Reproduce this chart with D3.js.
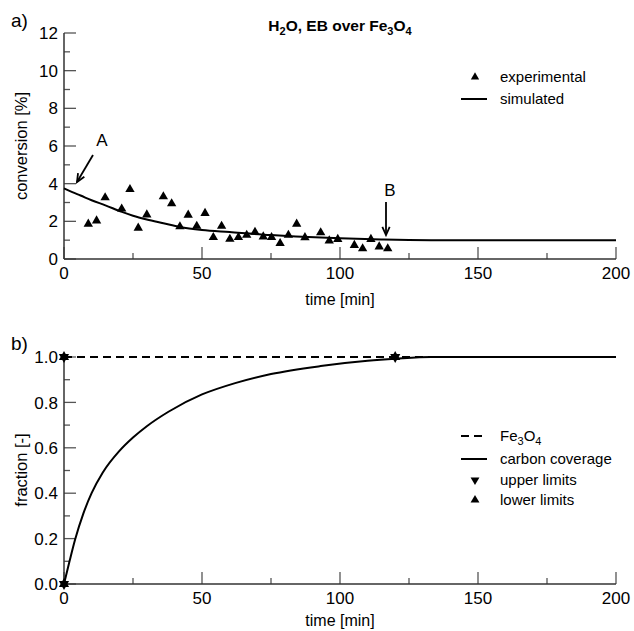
<!DOCTYPE html>
<html><head><meta charset="utf-8">
<script src="https://cdn.jsdelivr.net/npm/d3@7"></script>
<style>
body{margin:0;background:#fff;}
svg{display:block;font-family:"Liberation Sans",Arial,sans-serif;}
</style></head>
<body><svg id="c" width="634" height="631"></svg>
<script>
// ---- data ----
const expTime = [8.8,11.8,14.9,20.9,23.9,26.9,30.0,36.0,39.0,42.0,45.0,48.1,51.1,54.1,57.1,60.1,63.2,66.2,69.2,72.2,75.2,78.3,81.3,84.3,87.3,93.0,96.1,99.2,105.2,108.2,111.2,114.2,117.3];
const expConv = [1.86,2.03,3.26,2.66,3.70,1.65,2.35,3.31,2.94,1.72,2.34,1.75,2.43,1.15,1.75,1.06,1.15,1.27,1.43,1.18,1.15,0.83,1.27,1.86,1.14,1.40,0.97,1.05,0.73,0.55,1.05,0.65,0.55];
const simTime = [0,3,6,10,15,21,25,30,36,42,50,60,75,84,100,115,125,133,150,200];
const simConv = [3.75,3.55,3.37,3.12,2.85,2.5,2.3,2.1,1.9,1.7,1.54,1.43,1.27,1.2,1.1,1.04,1.01,1.0,1.0,1.0];
const covTime = [0,2,4,7,10,14,20,25,30,38,50,62,75,93,110,120,133,150,200];
const covFrac = [0,0.1,0.195,0.31,0.40,0.49,0.585,0.645,0.695,0.76,0.835,0.885,0.925,0.96,0.983,0.992,1.0,1.0,1.0];
const feTime = [0,200];
const feFrac = [1,1];
const limitTime = [0,0,120];
const limitFrac = [1,0,1];
const xTicks = [0,50,100,150,200];
const yTicksA = [0,2,4,6,8,10,12];
const yTicksB = [0,0.2,0.4,0.6,0.8,1.0];

const svg = d3.select("#c");
const axisCol = "#333";
const x = d3.scaleLinear().domain([0,200]).range([64,616]);
const yA = d3.scaleLinear().domain([0,12]).range([259,33]);
const yB = d3.scaleLinear().domain([0,1]).range([584,357]);

function axes(y, minorY, majorY, fmt, xLabelY, xTitleY, yTitle, yTitleCY) {
  const g = svg.append("g");
  const [y0, y1] = y.range();
  const minorX = d3.range(0,201,25);
  g.selectAll(".tx").data(minorX).join("line")
    .attr("x1", d=>x(d)).attr("x2", d=>x(d))
    .attr("y1", y0).attr("y2", d=> y0 - (d%50===0 ? 12 : 6))
    .attr("stroke", "#555").attr("stroke-width", 1.3);
  g.selectAll(".ty").data(minorY).join("line")
    .attr("x1", 64).attr("x2", d=> 64 + (majorY.some(m=>Math.abs(m-d)<1e-9) ? 12 : 6))
    .attr("y1", d=>y(d)).attr("y2", d=>y(d))
    .attr("stroke", "#555").attr("stroke-width", 1.3);
  g.append("line").attr("x1",64).attr("x2",616).attr("y1",y0).attr("y2",y0)
    .attr("stroke",axisCol).attr("stroke-width",1.5);
  g.append("line").attr("x1",64).attr("x2",64).attr("y1",y0).attr("y2",y1)
    .attr("stroke",axisCol).attr("stroke-width",1.5);
  g.selectAll(".lx").data(xTicks).join("text")
    .attr("x", d=>x(d)).attr("y", xLabelY).attr("text-anchor","middle")
    .attr("font-size",17).text(d=>d);
  g.selectAll(".ly").data(majorY).join("text")
    .attr("x", 58).attr("y", d=>y(d)).attr("dy","0.36em").attr("text-anchor","end")
    .attr("font-size",17).text(fmt);
  g.append("text").attr("x",340).attr("y",xTitleY).attr("text-anchor","middle")
    .attr("font-size",16).text("time [min]");
  g.append("text").attr("transform",`translate(27,${yTitleCY}) rotate(-90)`)
    .attr("text-anchor","middle").attr("font-size",16.5).text(yTitle);
}

axes(yA, d3.range(0,12.01,1), yTicksA, d=>d, 279, 305, "conversion [%]", 146);
axes(yB, d3.range(0,1.001,0.1).map(v=>+v.toFixed(1)), yTicksB, d=>d.toFixed(1), 604, 626, "fraction [-]", 470);

// panel labels
svg.append("text").attr("x",11).attr("y",27).attr("font-size",19).text("a)");
svg.append("text").attr("x",11).attr("y",350).attr("font-size",19).text("b)");

// title
const t = svg.append("text").attr("x",340).attr("y",31).attr("text-anchor","middle")
  .attr("font-size",15.5).attr("font-weight","bold");
t.append("tspan").text("H");
t.append("tspan").attr("dy",4).attr("font-size",11).text("2");
t.append("tspan").attr("dy",-4).text("O, EB over Fe");
t.append("tspan").attr("dy",4).attr("font-size",11).text("3");
t.append("tspan").attr("dy",-4).text("O");
t.append("tspan").attr("dy",4).attr("font-size",11).text("4");

// ---- panel a ----
const lineA = d3.line().x((d,i)=>x(simTime[i])).y((d,i)=>yA(simConv[i])).curve(d3.curveMonotoneX);
svg.append("path").attr("d", lineA(simTime)).attr("fill","none").attr("stroke","#000").attr("stroke-width",2);

const triUp = d3.symbol().type(d3.symbolTriangle).size(38);
svg.selectAll(".exp").data(expTime).join("path")
  .attr("d", triUp()).attr("fill","#000")
  .attr("transform",(d,i)=>`translate(${x(d)},${yA(expConv[i])})`);

// annotations
function arrow(x1,y1,x2,y2){
  svg.append("line").attr("x1",x1).attr("y1",y1).attr("x2",x2).attr("y2",y2)
    .attr("stroke","#000").attr("stroke-width",1.8);
  const ang = Math.atan2(y2-y1,x2-x1), L=9, a=0.42;
  const p = d3.path();
  p.moveTo(x2 - L*Math.cos(ang-a), y2 - L*Math.sin(ang-a));
  p.lineTo(x2,y2);
  p.lineTo(x2 - L*Math.cos(ang+a), y2 - L*Math.sin(ang+a));
  svg.append("path").attr("d",p.toString()).attr("fill","none").attr("stroke","#000").attr("stroke-width",1.8);
}
svg.append("text").attr("x",102).attr("y",146).attr("text-anchor","middle").attr("font-size",17).text("A");
arrow(93,155,77,182);
svg.append("text").attr("x",390).attr("y",196).attr("text-anchor","middle").attr("font-size",17).text("B");
arrow(386,202,386,235);

// legend a
svg.append("path").attr("d",d3.symbol().type(d3.symbolTriangle).size(30)()).attr("fill","#000")
  .attr("transform","translate(475,77)");
svg.append("text").attr("x",500).attr("y",82).attr("font-size",15).text("experimental");
svg.append("line").attr("x1",461).attr("x2",487).attr("y1",99).attr("y2",99).attr("stroke","#000").attr("stroke-width",2);
svg.append("text").attr("x",500).attr("y",104).attr("font-size",15).text("simulated");

// ---- panel b ----
const lineFe = d3.line().x((d,i)=>x(feTime[i])).y((d,i)=>yB(feFrac[i]));
svg.append("path").attr("d", lineFe(feTime)).attr("fill","none").attr("stroke","#000")
  .attr("stroke-width",2).attr("stroke-dasharray","8,5");
const lineB = d3.line().x((d,i)=>x(covTime[i])).y((d,i)=>yB(covFrac[i])).curve(d3.curveMonotoneX);
svg.append("path").attr("d", lineB(covTime)).attr("fill","none").attr("stroke","#000").attr("stroke-width",2);

const triS = d3.symbol().type(d3.symbolTriangle).size(45);
limitTime.forEach((tt,i)=>{
  const px = x(tt), py = yB(limitFrac[i]);
  svg.append("path").attr("d",triS()).attr("fill","#000").attr("transform",`translate(${px},${py})`);
  svg.append("path").attr("d",triS()).attr("fill","#000").attr("transform",`translate(${px},${py}) rotate(180)`);
});

// legend b
svg.append("line").attr("x1",461).attr("x2",487).attr("y1",436).attr("y2",436).attr("stroke","#000")
  .attr("stroke-width",2).attr("stroke-dasharray","8,5");
const fe = svg.append("text").attr("x",500).attr("y",441).attr("font-size",15);
fe.append("tspan").text("Fe");
fe.append("tspan").attr("dy",4).attr("font-size",11).text("3");
fe.append("tspan").attr("dy",-4).text("O");
fe.append("tspan").attr("dy",4).attr("font-size",11).text("4");
svg.append("line").attr("x1",461).attr("x2",487).attr("y1",459).attr("y2",459).attr("stroke","#000").attr("stroke-width",2);
svg.append("text").attr("x",500).attr("y",464).attr("font-size",15).text("carbon coverage");
const triL = d3.symbol().type(d3.symbolTriangle).size(34);
svg.append("path").attr("d",triL()).attr("fill","#000").attr("transform","translate(475,480) rotate(180)");
svg.append("text").attr("x",500).attr("y",485).attr("font-size",15).text("upper limits");
svg.append("path").attr("d",triL()).attr("fill","#000").attr("transform","translate(475,500)");
svg.append("text").attr("x",500).attr("y",505).attr("font-size",15).text("lower limits");
</script>
</body></html>
